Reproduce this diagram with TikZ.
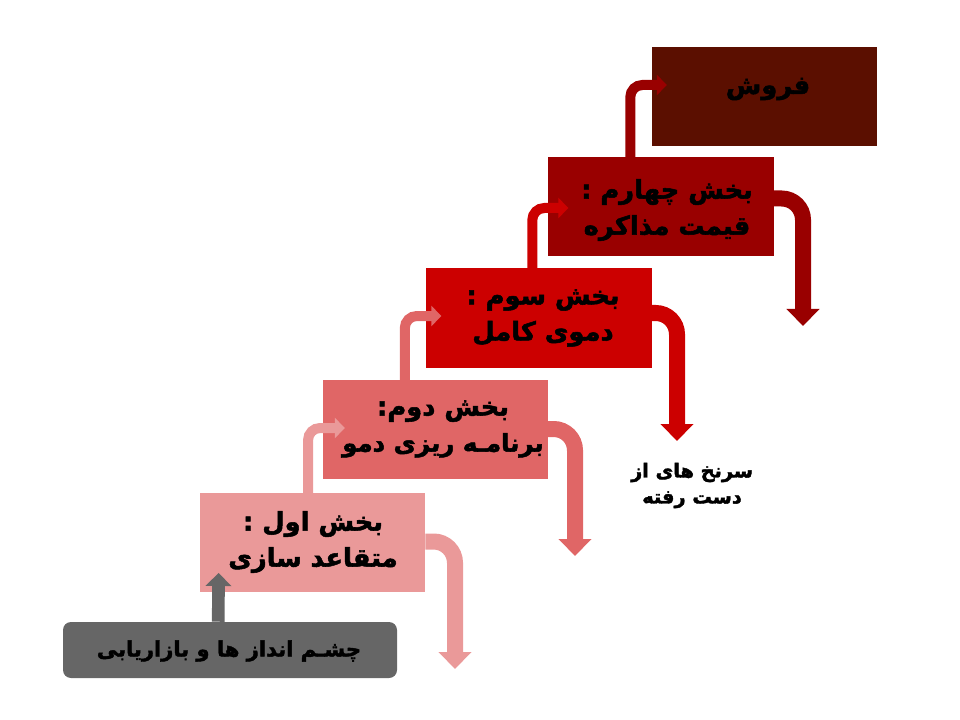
\documentclass[tikz,border=0pt]{standalone}
\usepackage{fontspec}
\usetikzlibrary{arrows.meta,calc}
\newfontfamily\fa[Script=Arabic,BoldFeatures={FakeBold=2}]{DejaVu Sans}
\TeXXeTstate=1
\newcommand{\rl}[1]{\beginR #1\endR}
\definecolor{cpink}{HTML}{EA9999}
\definecolor{csalmon}{HTML}{E06666}
\definecolor{cred}{HTML}{CC0000}
\definecolor{cdark}{HTML}{990000}
\definecolor{cbrown}{HTML}{5B0F00}
\definecolor{cgray}{HTML}{666666}
\tikzset{
  stage/.style={minimum width=169pt,minimum height=74.25pt,inner sep=0pt,outer sep=0pt},
  lbl/.style={align=center,inner sep=0pt,text=black,font=\fa\bfseries\fontsize{19.3pt}{27pt}\selectfont},
  up/.style={line width=7.5pt,rounded corners=9pt,-{Triangle[length=7.5pt,width=15pt]}},
  leak/.style={line width=12pt,rounded corners=16pt,-{Triangle[length=12.75pt,width=24pt]}},
}
\begin{document}
\begin{tikzpicture}[x=0.75pt,y=-0.75pt]
\useasboundingbox (0,0) rectangle (960,720);
\node[stage,fill=cbrown] (b5) at (764.5,96.5) {};
\node[stage,fill=cdark] (b4) at (661,206.5) {};
\node[stage,fill=cred] (b3) at (539,318) {};
\node[stage,fill=csalmon] (b2) at (435.5,429.5) {};
\node[stage,fill=cpink] (b1) at (312.75,542.5) {};
\node[fill=cgray,rounded corners=6pt,minimum width=250.5pt,minimum height=42pt,inner sep=0pt] (g) at (230,650) {};
\coordinate (e4) at (803,326);
\coordinate (e3) at (677,441);
\coordinate (e2) at (575,556);
\coordinate (e1) at (455,669);
\draw[leak,color=cdark] ($(b4.east)+(0,-8)$) -| (e4);
\draw[leak,color=cred] ($(b3.east)+(0,-5)$) -| (e3);
\draw[leak,color=csalmon] ($(b2.east)+(0,-0.5)$) -| (e2);
\draw[leak,color=cpink] ($(b1.east)+(0,-1)$) -| (e1);
\draw[up,color=cdark] ($(b4.north west)+(82,0)$) |- ($(b5.west)+(15,-11.5)$);
\draw[up,color=cred] ($(b3.north west)+(106,0)$) |- ($(b4.west)+(20,1.5)$);
\draw[up,color=csalmon] ($(b2.north west)+(82,0)$) |- ($(b3.west)+(15,-2)$);
\draw[up,color=cpink] ($(b1.north west)+(108,0)$) |- ($(b2.west)+(22,-1.5)$);
\draw[line width=9.5pt,color=cgray,-{Triangle[length=9.75pt,width=19pt]}] ($(g.north west)+(155.5,0)$) -- ($(b1.south west)+(18.5,-19)$);
\node[lbl] (t5) at (768,89) {\rl{فروش}};
\node[lbl] (t4) at (667,210) {\rl{بخش چهارم :}\\\rl{قیمت مذاکره}};
\node[lbl] (t3) at (543,318) {\rl{بخش سوم :}\\\rl{دموی کامل}};
\node[lbl] (t2) at (443,429) {\rl{بخش دوم:}\\{\fontsize{18.3pt}{27pt}\selectfont\rl{برنامـه ریزی دمو}}};
\node[lbl] (t1) at (313,542) {\rl{بخش اول :}\\\rl{متقاعد سازی}};
\node[lbl,font=\fa\bfseries\fontsize{15.8pt}{20pt}\selectfont] (t0) at (229,651) {\rl{چشـم انداز ها و بازاریابی}};
\node[lbl,font=\fa\bfseries\fontsize{14.5pt}{19.5pt}\selectfont] (t6) at (692,485.5) {\rl{سرنخ های از}\\\rl{دست رفته}};
\end{tikzpicture}
\end{document}
